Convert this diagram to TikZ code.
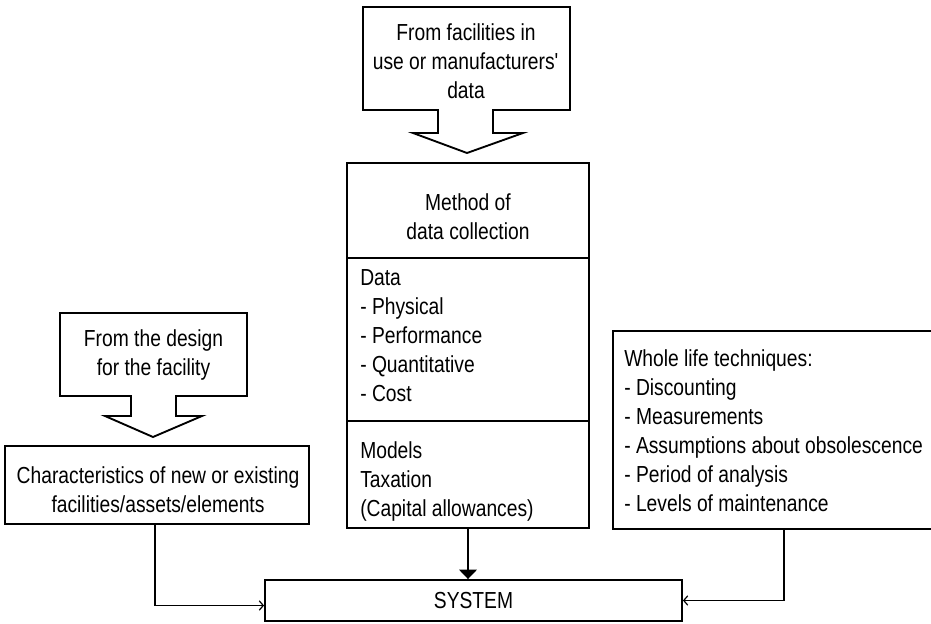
\documentclass[tikz,border=0pt]{standalone}
\usepackage{fontspec}
\setmainfont{Liberation Sans}[FakeStretch=0.83]
\usetikzlibrary{arrows.meta,calc}

\begin{document}
\begin{tikzpicture}[x=0.75pt,y=-0.75pt,
  every node/.style={font=\fontsize{17.4}{21.75}\selectfont, inner sep=0pt},
  frame/.style={draw, line width=1.4pt, rectangle},
  callout/.style={draw, line width=1.4pt, line join=miter},
  link/.style={draw, line width=0.9pt, -{Straight Barb[length=3pt,width=7pt]}},
  feed/.style={draw, line width=2.2pt, -{Triangle[length=7pt,width=13pt]}}
]
\useasboundingbox (0,0) rectangle (931,624);

% outer boxes
\node[frame, minimum width=181.5pt, minimum height=273.75pt] (C) at (468,345.5) {};
\node[frame, minimum width=312.75pt, minimum height=30.75pt] (S) at (473.5,600.5) {SYSTEM};
\node[frame, minimum width=228pt, minimum height=58.5pt] (B) at (157,485) {};
\node[frame, minimum width=241.5pt, minimum height=148.5pt] (R) at (774,430) {};

% block arrows feeding the boxes
\draw[callout] (363,7) -- (570,7) -- (570,110) -- (493,110) -- (493,133) -- (523,133)
  -- (467,153) -- (413,133) -- (438,133) -- (438,110) -- (363,110) -- cycle;
\draw[callout] (60,313) -- (247,313) -- (247,396) -- (176,396) -- (176,416) -- (202,416)
  -- (153,437) -- (105,416) -- (131,416) -- (131,396) -- (60,396) -- cycle;

\node[align=center] (src1) at (466,61) {From facilities in\\use or manufacturers\textquotesingle\\data};
\node[align=center] (src2) at (153.5,355) {From the design\\for the facility};

% left box text
\node[align=center] (chars) at (158,490) {Characteristics of new or existing\\facilities/assets/elements};

% central box: heading and two sections
\draw[line width=1.4pt] (C.west |- 0,258) -- (C.east |- 0,258);
\draw[line width=1.4pt] (C.west |- 0,421) -- (C.east |- 0,421);
\node[align=center] (method) at (468,217) {Method of\\data collection};
\node[align=left, anchor=north west] (data) at (360,269) {Data\\- Physical\\- Performance\\- Quantitative\\- Cost};
\node[align=left, anchor=north west] (models) at (360,441) {Models\\Taxation\\(Capital allowances)};

% right box text
\node[align=left, anchor=north west] (whole) at (624,349) {Whole life techniques:\\- Discounting\\- Measurements\\- Assumptions about obsolescence\\- Period of analysis\\- Levels of maintenance};

% connectors into the system
\draw[feed] (C.south) -- (C.south |- S.north);
\draw[link] ([xshift=-1.5pt]B.south) |- ($(S.west)+(0,5)$);
\draw[link] ([xshift=7.5pt]R.south) |- (S.east);
\end{tikzpicture}
\end{document}
